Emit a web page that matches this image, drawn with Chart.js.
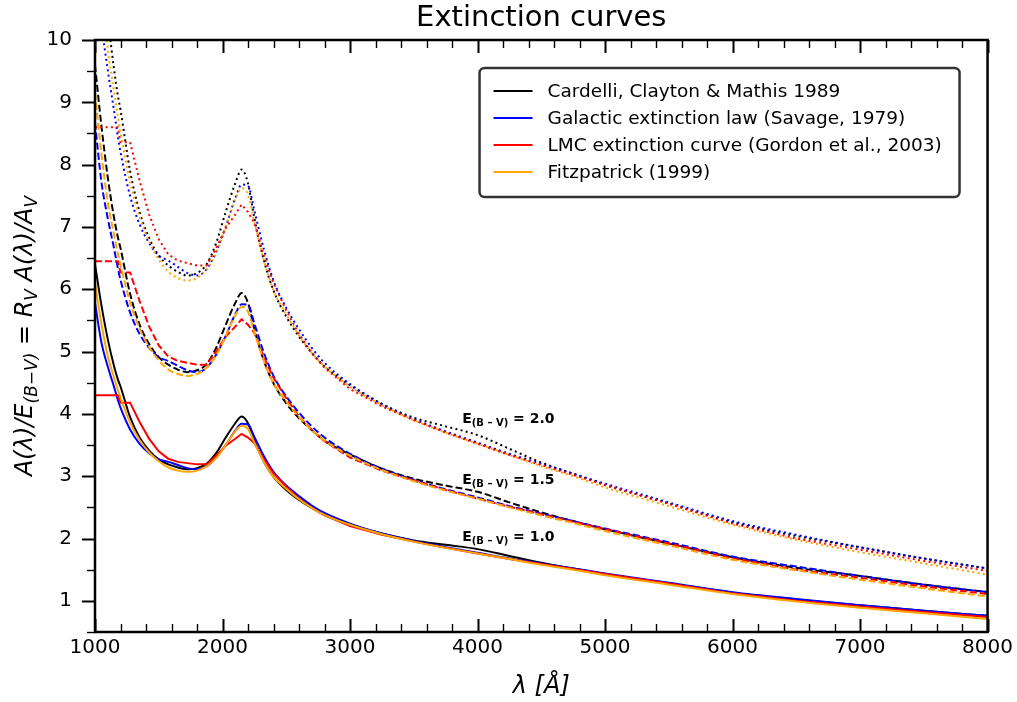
<!DOCTYPE html>
<html>
<head>
<meta charset="utf-8">
<title>Extinction curves</title>
<script src="https://cdn.jsdelivr.net/npm/chart.js@4.4.1/dist/chart.umd.min.js"></script>
<style>
    html, body { margin: 0; padding: 0; background: #ffffff; }
    canvas { display: block; }
</style>
</head>
<body>
<canvas id="extinction-chart" width="1017" height="702"></canvas>
<script>
(function () {
    'use strict';

    // Longueurs d'onde (Angstrom)
    var wavelengths = [1000, 1050, 1100, 1150, 1180, 1200, 1275, 1350, 1425, 1500, 1575, 1650, 1725, 1800,
        1875, 1950, 2025, 2100, 2150, 2200, 2250, 2325, 2400, 2500, 2600, 2700, 2800, 3000, 3250, 3500,
        3750, 4000, 4250, 4500, 4750, 5000, 5500, 6000, 6500, 7000, 7500, 8000];

    // Cardelli, Clayton & Mathis 1989
    var ccm10 = [6.40, 5.75, 5.20, 4.76, 4.55, 4.44, 3.95, 3.62, 3.41, 3.27, 3.19, 3.14, 3.11, 3.13,
        3.20, 3.37, 3.62, 3.85, 3.96, 3.85, 3.57, 3.23, 2.99, 2.78, 2.62, 2.49, 2.38, 2.23, 2.08, 1.97,
        1.90, 1.83, 1.72, 1.61, 1.52, 1.43, 1.28, 1.13, 1.02, 0.93, 0.84, 0.76];
    var ccm15 = [9.60, 8.63, 7.80, 7.14, 6.83, 6.66, 5.93, 5.43, 5.12, 4.91, 4.79, 4.71, 4.67, 4.70,
        4.80, 5.06, 5.43, 5.78, 5.94, 5.78, 5.36, 4.85, 4.49, 4.17, 3.93, 3.74, 3.57, 3.35, 3.12, 2.96,
        2.85, 2.75, 2.58, 2.42, 2.28, 2.15, 1.92, 1.70, 1.53, 1.40, 1.26, 1.14];
    var ccm20 = [12.80, 11.50, 10.40, 9.52, 9.10, 8.88, 7.90, 7.24, 6.82, 6.54, 6.38, 6.28, 6.22, 6.26,
        6.40, 6.74, 7.24, 7.70, 7.92, 7.70, 7.14, 6.46, 5.98, 5.56, 5.24, 4.98, 4.76, 4.46, 4.16, 3.94,
        3.80, 3.66, 3.44, 3.22, 3.04, 2.86, 2.56, 2.26, 2.04, 1.86, 1.68, 1.52];

    // Galactic extinction law (Savage, 1979)
    var savage10 = [5.78, 5.15, 4.76, 4.43, 4.22, 4.10, 3.75, 3.52, 3.37, 3.27, 3.23, 3.18, 3.13, 3.11,
        3.16, 3.30, 3.50, 3.73, 3.84, 3.83, 3.63, 3.32, 3.07, 2.85, 2.68, 2.53, 2.41, 2.24, 2.08, 1.96,
        1.86, 1.77, 1.68, 1.60, 1.52, 1.44, 1.29, 1.14, 1.03, 0.93, 0.84, 0.76];
    var savage15 = [8.67, 7.73, 7.14, 6.65, 6.33, 6.15, 5.63, 5.28, 5.06, 4.91, 4.85, 4.77, 4.70, 4.67,
        4.74, 4.95, 5.25, 5.60, 5.76, 5.75, 5.45, 4.98, 4.61, 4.28, 4.02, 3.80, 3.62, 3.36, 3.12, 2.94,
        2.79, 2.66, 2.52, 2.40, 2.28, 2.16, 1.94, 1.71, 1.55, 1.40, 1.26, 1.14];
    var savage20 = [11.56, 10.30, 9.52, 8.86, 8.44, 8.20, 7.50, 7.04, 6.74, 6.54, 6.46, 6.36, 6.26, 6.22,
        6.32, 6.60, 7.00, 7.46, 7.68, 7.66, 7.26, 6.64, 6.14, 5.70, 5.36, 5.06, 4.82, 4.48, 4.16, 3.92,
        3.72, 3.54, 3.36, 3.20, 3.04, 2.88, 2.58, 2.28, 2.06, 1.86, 1.68, 1.52];

    // LMC extinction curve (Gordon et al., 2003)
    var lmc10 = [4.30, 4.30, 4.30, 4.30, 4.30, 4.18, 4.18, 3.87, 3.60, 3.40, 3.28, 3.23, 3.21, 3.19,
        3.19, 3.33, 3.49, 3.60, 3.68, 3.62, 3.53, 3.27, 3.05, 2.83, 2.64, 2.49, 2.37, 2.20, 2.06, 1.95,
        1.85, 1.76, 1.67, 1.59, 1.51, 1.43, 1.28, 1.12, 1.00, 0.91, 0.82, 0.74];
    var lmc15 = [6.45, 6.45, 6.45, 6.45, 6.45, 6.27, 6.27, 5.81, 5.40, 5.10, 4.92, 4.85, 4.82, 4.79,
        4.79, 5.00, 5.24, 5.40, 5.52, 5.43, 5.30, 4.91, 4.58, 4.25, 3.96, 3.74, 3.56, 3.30, 3.09, 2.93,
        2.78, 2.64, 2.51, 2.39, 2.27, 2.15, 1.92, 1.68, 1.50, 1.37, 1.23, 1.11];
    var lmc20 = [8.60, 8.60, 8.60, 8.60, 8.60, 8.36, 8.36, 7.74, 7.20, 6.80, 6.56, 6.46, 6.42, 6.38,
        6.38, 6.66, 6.98, 7.20, 7.36, 7.24, 7.06, 6.54, 6.10, 5.66, 5.28, 4.98, 4.74, 4.40, 4.12, 3.90,
        3.70, 3.52, 3.34, 3.18, 3.02, 2.86, 2.56, 2.24, 2.00, 1.82, 1.64, 1.48];

    // Fitzpatrick (1999)
    var fitz10 = [6.10, 5.45, 4.93, 4.58, 4.38, 4.26, 3.86, 3.58, 3.38, 3.24, 3.14, 3.09, 3.07, 3.09,
        3.16, 3.29, 3.50, 3.72, 3.81, 3.76, 3.54, 3.23, 2.99, 2.80, 2.63, 2.49, 2.38, 2.22, 2.07, 1.95,
        1.85, 1.76, 1.67, 1.58, 1.50, 1.41, 1.26, 1.11, 0.99, 0.89, 0.80, 0.71];
    var fitz15 = [9.15, 8.18, 7.40, 6.87, 6.57, 6.39, 5.79, 5.37, 5.07, 4.86, 4.71, 4.64, 4.61, 4.64,
        4.74, 4.94, 5.25, 5.58, 5.72, 5.64, 5.31, 4.85, 4.49, 4.20, 3.95, 3.74, 3.57, 3.33, 3.10, 2.92,
        2.77, 2.64, 2.50, 2.37, 2.25, 2.12, 1.89, 1.66, 1.49, 1.34, 1.20, 1.07];
    var fitz20 = [12.20, 10.90, 9.86, 9.16, 8.76, 8.52, 7.72, 7.16, 6.76, 6.48, 6.28, 6.18, 6.14, 6.18,
        6.32, 6.58, 7.00, 7.44, 7.62, 7.52, 7.08, 6.46, 5.98, 5.60, 5.26, 4.98, 4.76, 4.44, 4.14, 3.90,
        3.70, 3.52, 3.34, 3.16, 3.00, 2.82, 2.52, 2.22, 1.98, 1.78, 1.60, 1.42];

    var modelNames = [
        'Cardelli, Clayton & Mathis 1989',
        'Galactic extinction law (Savage, 1979)',
        'LMC extinction curve (Gordon et al., 2003)',
        'Fitzpatrick (1999)'
    ];
    var modelColors = ['#000000', '#0000ff', '#ff0000', '#ffa500'];
    var ebvLevels = ['1.0', '1.5', '2.0'];
    var xTickValues = [1000, 2000, 3000, 4000, 5000, 6000, 7000, 8000];
    var yTickValues = [1, 2, 3, 4, 5, 6, 7, 8, 9, 10];

    var seriesByLevel = [
        [ccm10, savage10, lmc10, fitz10],
        [ccm15, savage15, lmc15, fitz15],
        [ccm20, savage20, lmc20, fitz20]
    ];
    var dashByLevel = [[], [7, 3], [2, 3.3]];

    var FONT = "'DejaVu Sans', 'Liberation Sans', sans-serif";

    var datasets = [];
    var idx = 0;
    seriesByLevel.forEach(function (level, li) {
        level.forEach(function (values, mi) {
            datasets.push({
                label: modelNames[mi] + ' E=' + ebvLevels[li],
                data: wavelengths.map(function (w, k) { return { x: w, y: values[k] }; }),
                borderColor: modelColors[mi],
                borderWidth: 2,
                borderDash: dashByLevel[li],
                pointRadius: 0,
                fill: false,
                tension: mi === 2 ? 0 : 0.4,
                cubicInterpolationMode: mi === 2 ? 'default' : 'monotone',
                clip: 0,
                order: 100 - idx
            });
            idx++;
        });
    });

    // cadre + graduations (gauche vers l'extérieur, haut/bas vers l'intérieur)
    var frameTicks = {
        id: 'frameTicks',
        afterDatasetsDraw: function (chart) {
            var ctx = chart.ctx;
            var a = chart.chartArea;
            var xs = chart.scales.x;
            var ys = chart.scales.y;
            var v, p, len;
            ctx.save();
            ctx.strokeStyle = '#000';
            ctx.lineCap = 'butt';

            for (v = 1000; v <= 8000; v += 200) {
                var major = v % 1000 === 0;
                p = Math.round(xs.getPixelForValue(v)) + 0.5;
                len = major ? 13 : 8;
                ctx.lineWidth = major ? 2 : 1.4;
                ctx.beginPath();
                ctx.moveTo(p, a.bottom);
                ctx.lineTo(p, a.bottom - len);
                ctx.moveTo(p, a.top);
                ctx.lineTo(p, a.top + len);
                ctx.stroke();
            }
            for (v = 0.5; v <= 10.001; v += 0.5) {
                var maj = Math.abs(v - Math.round(v)) < 1e-6;
                p = Math.round(ys.getPixelForValue(v)) + 0.5;
                len = maj ? 13 : 8;
                ctx.lineWidth = maj ? 2 : 1.4;
                ctx.beginPath();
                ctx.moveTo(a.left, p);
                ctx.lineTo(a.left - len, p);
                ctx.stroke();
            }

            ctx.lineWidth = 2.5;
            ctx.strokeRect(a.left, a.top, a.right - a.left, a.bottom - a.top);
            ctx.restore();
        }
    };

    function drawParts(ctx, parts, x, y, align) {
        var total = 0;
        parts.forEach(function (pt) {
            ctx.font = pt.font;
            pt.w = ctx.measureText(pt.t).width;
            total += pt.w;
        });
        var cx = align === 'center' ? x - total / 2 : x;
        parts.forEach(function (pt) {
            ctx.font = pt.font;
            ctx.fillText(pt.t, cx, y + (pt.dy || 0));
            cx += pt.w;
        });
    }

    var labels = {
        id: 'labels',
        afterDraw: function (chart) {
            var ctx = chart.ctx;
            var a = chart.chartArea;
            var xs = chart.scales.x;
            var ys = chart.scales.y;
            var midX = (a.left + a.right) / 2;
            var midY = (a.top + a.bottom) / 2;
            ctx.save();
            ctx.fillStyle = '#000';
            ctx.textBaseline = 'alphabetic';
            ctx.textAlign = 'left';

            // titre
            drawParts(ctx, [{ t: 'Extinction curves', font: '29px ' + FONT }], midX, 26, 'center');

            // axe x
            drawParts(ctx, [{ t: 'λ [Å]', font: 'italic 24px ' + FONT }], midX, 693, 'center');

            // axe y
            ctx.save();
            ctx.translate(32, midY);
            ctx.rotate(-Math.PI / 2);
            var main = 'italic 24px ' + FONT;
            var sub = 'italic 17px ' + FONT;
            drawParts(ctx, [
                { t: 'A(λ)/E', font: main },
                { t: '(B−V)', font: sub, dy: 5 },
                { t: ' = R', font: main },
                { t: 'V', font: sub, dy: 5 },
                { t: ' A(λ)/A', font: main },
                { t: 'V', font: sub, dy: 5 }
            ], 0, 0, 'center');
            ctx.restore();

            // annotations E(B-V)
            var annot = [[3880, 3.93, ebvLevels[2]], [3880, 2.96, ebvLevels[1]], [3880, 2.04, ebvLevels[0]]];
            annot.forEach(function (an) {
                var px = xs.getPixelForValue(an[0]);
                var py = ys.getPixelForValue(an[1]) + 5;
                drawParts(ctx, [
                    { t: 'E', font: 'bold 14px ' + FONT },
                    { t: '(B – V)', font: 'bold 10px ' + FONT, dy: 3 },
                    { t: ' = ' + an[2], font: 'bold 14px ' + FONT }
                ], px, py, 'left');
            });

            // légende
            var bx = a.right - 508, by = a.top + 28, bw = 480, bh = 129, r = 5;
            ctx.beginPath();
            ctx.moveTo(bx + r, by);
            ctx.arcTo(bx + bw, by, bx + bw, by + bh, r);
            ctx.arcTo(bx + bw, by + bh, bx, by + bh, r);
            ctx.arcTo(bx, by + bh, bx, by, r);
            ctx.arcTo(bx, by, bx + bw, by, r);
            ctx.closePath();
            ctx.fillStyle = '#ffffff';
            ctx.fill();
            ctx.lineWidth = 2.5;
            ctx.strokeStyle = '#333333';
            ctx.stroke();

            ctx.font = '18.5px ' + FONT;
            ctx.textBaseline = 'middle';
            modelNames.forEach(function (name, i) {
                var ry = by + 23 + i * 27;
                ctx.strokeStyle = modelColors[i];
                ctx.lineWidth = 2;
                ctx.beginPath();
                ctx.moveTo(bx + 14, ry);
                ctx.lineTo(bx + 53, ry);
                ctx.stroke();
                ctx.fillStyle = '#000';
                ctx.fillText(name, bx + 68, ry + 1);
            });
            ctx.restore();
        }
    };

    var canvas = document.getElementById('extinction-chart');

    new Chart(canvas, {
        type: 'line',
        data: { datasets: datasets },
        options: {
            responsive: false,
            animation: false,
            events: [],
            layout: { padding: { top: 40, right: 29, left: 0, bottom: 0 } },
            plugins: {
                legend: { display: false },
                title: { display: false },
                tooltip: { enabled: false }
            },
            scales: {
                x: {
                    type: 'linear',
                    min: 1000,
                    max: 8000,
                    afterBuildTicks: function (scale) {
                        scale.ticks = xTickValues.map(function (v) { return { value: v }; });
                    },
                    afterFit: function (scale) { scale.height = 70; },
                    grid: { display: false, drawTicks: false },
                    border: { display: false },
                    ticks: {
                        color: '#000',
                        font: { family: FONT, size: 20 },
                        padding: 4,
                        maxRotation: 0,
                        callback: function (v) { return String(v); }
                    }
                },
                y: {
                    type: 'linear',
                    min: 0.5,
                    max: 10,
                    afterBuildTicks: function (scale) {
                        scale.ticks = yTickValues.map(function (v) { return { value: v }; });
                    },
                    afterFit: function (scale) { scale.width = 95; },
                    grid: { display: false, drawTicks: false },
                    border: { display: false },
                    ticks: {
                        color: '#000',
                        font: { family: FONT, size: 20 },
                        padding: 23,
                        callback: function (v) { return String(v); }
                    }
                }
            }
        },
        plugins: [frameTicks, labels]
    });
})();
</script>
</body>
</html>
